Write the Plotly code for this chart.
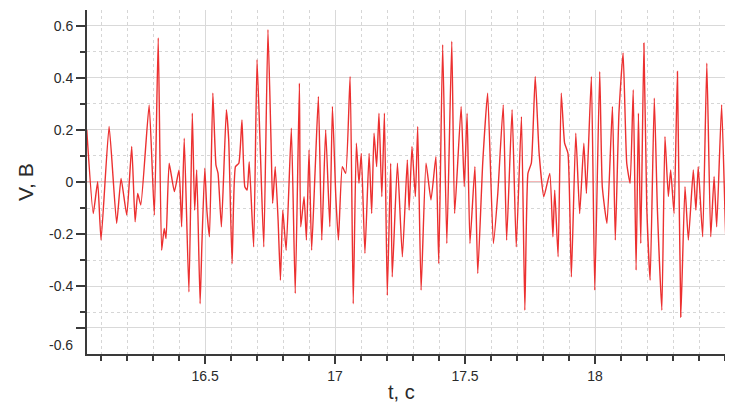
import plotly.graph_objects as go

# Signal turning points (time in s, voltage in V)
t_s = [
    16.045, 16.070, 16.087, 16.100, 16.131, 16.160, 16.177, 16.199, 16.218, 16.231,
    16.241, 16.253, 16.285, 16.305, 16.320, 16.333, 16.343, 16.350, 16.362, 16.382,
    16.400, 16.410, 16.420, 16.438, 16.451,
    16.460, 16.468, 16.481, 16.488, 16.499, 16.507, 16.517, 16.530, 16.542, 16.550,
    16.563, 16.582, 16.591, 16.604, 16.617, 16.630, 16.642, 16.653, 16.662, 16.670,
    16.687, 16.700, 16.713, 16.726, 16.742, 16.754, 16.760, 16.770, 16.781, 16.790,
    16.799, 16.812, 16.832, 16.847, 16.863,
    16.868, 16.881, 16.890, 16.900, 16.910, 16.923, 16.936, 16.949, 16.964, 16.980,
    16.990, 17.003, 17.013, 17.028, 17.041, 17.058, 17.070, 17.082, 17.092, 17.101,
    17.115, 17.131, 17.141, 17.150, 17.160, 17.169, 17.180, 17.190, 17.201, 17.214,
    17.220, 17.240, 17.259, 17.278,
    17.285, 17.296, 17.309, 17.318, 17.331, 17.350, 17.369, 17.388, 17.399, 17.414,
    17.430, 17.449, 17.460, 17.485, 17.497, 17.508, 17.519, 17.538, 17.549, 17.568,
    17.587, 17.609, 17.626, 17.647, 17.660, 17.681,
    17.697, 17.717, 17.730, 17.742, 17.755, 17.770, 17.785, 17.803, 17.826, 17.838,
    17.845, 17.858, 17.870, 17.883, 17.896, 17.909, 17.926, 17.941, 17.957, 17.967,
    17.986, 17.999, 18.018, 18.028, 18.046, 18.067, 18.078, 18.092, 18.108,
    18.122, 18.135, 18.147, 18.158, 18.167, 18.176, 18.188, 18.199, 18.212, 18.228,
    18.240, 18.257, 18.269, 18.282, 18.291, 18.304, 18.317, 18.330, 18.346, 18.359,
    18.378, 18.388, 18.397, 18.414, 18.430, 18.445, 18.458, 18.468, 18.487, 18.507,
    18.519, 18.531,
]
v_volts = [
    0.200, -0.121, 0.001, -0.223, 0.213, -0.159, 0.014, -0.127, 0.136, -0.153,
    -0.044, -0.088, 0.296, -0.127, 0.553, -0.262, -0.178, -0.217, 0.072, -0.037,
    0.046, -0.172, 0.168, -0.422, 0.264,
    -0.108, 0.046, -0.467, -0.236, 0.053, -0.108, -0.210, 0.341, 0.065, 0.033,
    -0.172, 0.277, 0.162, -0.313, 0.059, 0.072, 0.238, -0.018, -0.031, 0.078,
    -0.249, 0.469, 0.110, -0.249, 0.585, 0.149, -0.082, 0.059, -0.146, -0.377,
    -0.108, -0.262, 0.206, -0.428, 0.379,
    -0.172, -0.056, -0.223, 0.123, -0.262, 0.033, 0.328, -0.223, 0.200, -0.172,
    0.290, -0.056, -0.223, 0.059, 0.033, 0.405, -0.467, 0.149, -0.005, 0.110,
    -0.274, 0.110, -0.121, 0.187, 0.059, 0.264, -0.056, 0.264, -0.435, 0.072,
    -0.364, 0.072, -0.287, 0.085,
    -0.108, 0.136, -0.056, 0.213, -0.415, 0.072, -0.069, 0.097, -0.313, 0.527,
    -0.236, 0.540, -0.121, 0.290, -0.018, 0.264, -0.236, 0.059, -0.351, 0.072,
    0.341, -0.236, -0.044, 0.296, -0.223, 0.277,
    -0.249, 0.251, -0.492, 0.033, 0.072, 0.405, 0.110, -0.056, 0.033, -0.210,
    -0.031, -0.287, 0.341, 0.149, 0.110, -0.364, 0.187, -0.121, 0.149, -0.044,
    0.405, -0.415, 0.424, -0.018, -0.159, 0.290, -0.223, 0.264, 0.495,
    0.072, -0.005, 0.354, -0.338, 0.264, -0.236, 0.533, -0.095, -0.377, 0.322,
    -0.108, -0.492, 0.174, -0.056, 0.046, -0.121, 0.424, -0.518, -0.018, -0.223,
    0.046, -0.108, 0.059, -0.210, 0.456, -0.210, 0.021, -0.172, 0.296, -0.338,
    0.046, -0.005,
]

x_tick_vals = [16.5, 17.0, 17.5, 18.0]
x_tick_text = ["16.5", "17", "17.5", "18"]
y_tick_vals = [-0.56, -0.4, -0.2, 0.0, 0.2, 0.4, 0.6]
y_tick_text = ["", "-0.4", "-0.2", "0", "0.2", "0.4", "0.6"]
y_minor_vals = [-0.5, -0.3, -0.1, 0.1, 0.3, 0.5]
bottom_label = "-0.6"
bottom_label_pos = -0.625

x_title = "t, c"
y_title = "V, B"

axis_color = "#3a3a3a"
text_color = "#2a2a2a"
font_family = "Liberation Sans, Arial, sans-serif"

fig = go.Figure()
fig.add_trace(go.Scatter(
    x=t_s, y=v_volts, mode="lines",
    line=dict(color="rgb(236,48,48)", width=1.4, shape="spline", smoothing=0.45),
    hoverinfo="skip", showlegend=False,
))

fig.add_hline(y=0, line=dict(color="rgba(225,60,60,0.75)", width=1.2), layer="below")

fig.update_layout(
    width=725, height=397,
    margin=dict(l=79, r=2, t=2, b=51),
    paper_bgcolor="white", plot_bgcolor="white",
    font=dict(family=font_family, size=14, color=text_color),
    showlegend=False,
    xaxis=dict(
        range=[16.046, 18.523],
        tickmode="array", tickvals=x_tick_vals, ticktext=x_tick_text,
        ticks="outside", ticklen=8, tickwidth=1.5, tickcolor=axis_color,
        showline=True, linecolor=axis_color, linewidth=2,
        showgrid=True, gridcolor="#d9d9d9", gridwidth=1,
        zeroline=False,
        tickfont=dict(size=14, color=text_color),
        minor=dict(dtick=0.1, tick0=16.0, ticks="outside", ticklen=5, tickwidth=1.5,
                   tickcolor=axis_color, showgrid=True, gridcolor="#d6d6d6",
                   griddash="dot", gridwidth=1),
    ),
    yaxis=dict(
        range=[-0.66, 0.66],
        tickmode="array", tickvals=y_tick_vals, ticktext=y_tick_text,
        ticks="outside", ticklen=9, tickwidth=1.5, tickcolor=axis_color,
        showline=True, linecolor=axis_color, linewidth=2,
        showgrid=True, gridcolor="#d9d9d9", gridwidth=1,
        zeroline=False,
        tickfont=dict(size=14, color=text_color),
        minor=dict(tickmode="array", tickvals=y_minor_vals, ticks="outside", ticklen=5,
                   tickwidth=1.5, tickcolor=axis_color, showgrid=True,
                   gridcolor="#d6d6d6", griddash="dot", gridwidth=1),
    ),
    annotations=[
        dict(text=bottom_label, xref="paper", yref="y", x=0, y=bottom_label_pos,
             xanchor="right", yanchor="middle", xshift=-12, showarrow=False,
             font=dict(size=14, color=text_color)),
        dict(text=x_title, xref="paper", yref="paper", x=0.489, y=0,
             xanchor="center", yanchor="middle", yshift=-38, showarrow=False,
             font=dict(size=20, color=text_color)),
        dict(text=y_title, xref="paper", yref="paper", x=0, y=0.50,
             xanchor="center", yanchor="middle", xshift=-62, textangle=-90,
             showarrow=False, font=dict(size=21, color=text_color)),
    ],
)

fig.write_html("out.html")
